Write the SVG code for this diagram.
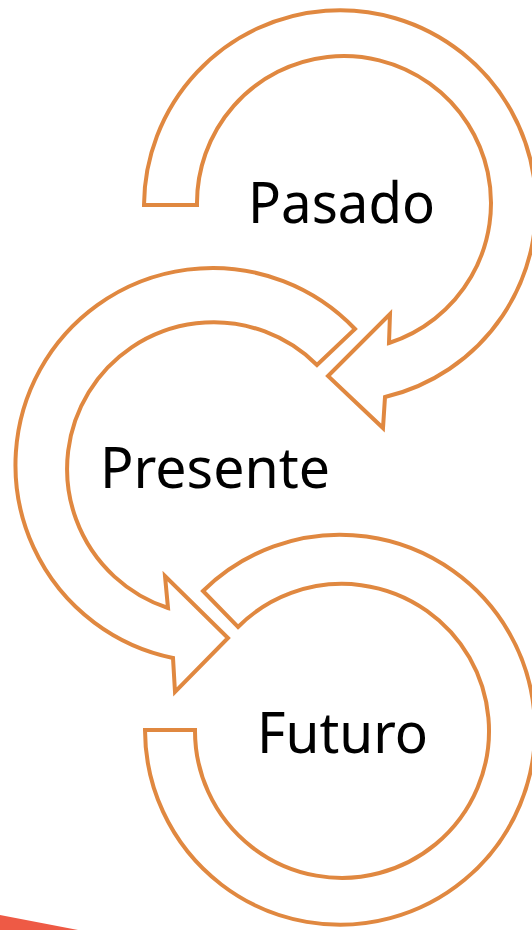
<svg xmlns="http://www.w3.org/2000/svg" width="532" height="930" viewBox="0 0 532 930">
<style>
.arrow{fill:#ffffff;stroke:#E08840;stroke-width:4;stroke-linejoin:miter}
.lbl{font-family:"Noto Sans","Open Sans","Liberation Sans",sans-serif;font-size:57px;fill:#000000}
</style>
<rect x="0" y="0" width="532" height="930" fill="#ffffff"/>
<polygon points="0,915 78,930 0,930" fill="#EE5A45"/>
<g id="futuro">
<path class="arrow" d="M145 730 A195 195 0 1 0 203 591 L238 627 A147 147 0 1 1 195 730 Z"/>
<text class="lbl" x="257" y="753" textLength="171" lengthAdjust="spacingAndGlyphs">Futuro</text>
</g>
<g id="presente">
<path class="arrow" d="M355 329 A197 197 0 1 0 173 658 L175 692 L228 638 L165 576 L168 608 A146.5 146.5 0 1 1 317 365 Z"/>
<text class="lbl" x="100" y="488" textLength="230" lengthAdjust="spacingAndGlyphs">Presente</text>
</g>
<g id="pasado">
<path class="arrow" d="M144 205 A196 196 0 1 1 385 397 L383 428 L328 376 L390 314 L389 343 A147 147 0 1 0 197 205 Z"/>
<text class="lbl" x="248" y="223" textLength="187" lengthAdjust="spacingAndGlyphs">Pasado</text>
</g>
<g id="connectors"></g>
</svg>
